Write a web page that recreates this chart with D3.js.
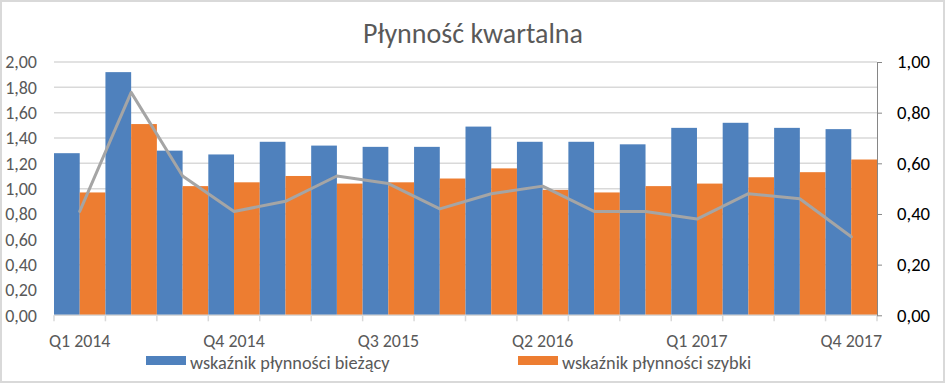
<!DOCTYPE html>
<html>
<head>
<meta charset="utf-8">
<script src="https://cdn.jsdelivr.net/npm/d3@7"></script>
<style>
  body { margin: 0; background: #fff; }
  svg text { font-family: Calibri, Carlito, Lato, sans-serif; }
</style>
</head>
<body>
<div id="chart"></div>
<script>
// data
var quarters = ["Q1 2014", "Q2 2014", "Q3 2014", "Q4 2014",
                "Q1 2015", "Q2 2015", "Q3 2015", "Q4 2015",
                "Q1 2016", "Q2 2016", "Q3 2016", "Q4 2016",
                "Q1 2017", "Q2 2017", "Q3 2017", "Q4 2017"];
var biezacy = [1.28, 1.92, 1.30, 1.27, 1.37, 1.34, 1.33, 1.33,
               1.49, 1.37, 1.37, 1.35, 1.48, 1.52, 1.48, 1.47];
var szybki = [0.97, 1.51, 1.02, 1.05, 1.10, 1.04, 1.05, 1.08,
              1.16, 0.99, 0.97, 1.02, 1.04, 1.09, 1.13, 1.23];
var trzeci = [0.41, 0.88, 0.55, 0.41, 0.45, 0.55, 0.52, 0.42,
              0.48, 0.51, 0.41, 0.41, 0.38, 0.48, 0.46, 0.31];
var leftTicks = [0, 0.2, 0.4, 0.6, 0.8, 1.0, 1.2, 1.4, 1.6, 1.8, 2.0];
var rightTicks = [0, 0.2, 0.4, 0.6, 0.8, 1.0];
var shownLabels = ["Q1 2014", "Q4 2014", "Q3 2015", "Q2 2016", "Q1 2017", "Q4 2017"];
var seriesNames = ["wskaźnik płynności bieżący", "wskaźnik płynności szybki"];

var width = 946, height = 385;
var plotLeft = 54, plotRight = 877, plotTop = 62, plotBottom = 315.3;

var blue = "#4f81bd", orange = "#ed7d31", gray = "#a5a5a5";
var fmt = function(v) { return d3.format(".2f")(v).replace(".", ","); };

var svg = d3.select("#chart").append("svg")
    .attr("width", width)
    .attr("height", height);

// outer frame
svg.append("rect")
    .attr("x", 1).attr("y", 1)
    .attr("width", width - 3).attr("height", height - 4)
    .attr("fill", "#fff")
    .attr("stroke", "#d9d9d9")
    .attr("stroke-width", 2);

var x = d3.scaleBand()
    .domain(quarters)
    .range([plotLeft, plotRight])
    .padding(0);

var xSub = d3.scaleBand()
    .domain([0, 1])
    .range([0, x.bandwidth()])
    .padding(0);

var yLeft = d3.scaleLinear().domain([0, 2]).range([plotBottom, plotTop]);
var yRight = d3.scaleLinear().domain([0, 1]).range([plotBottom, plotTop]);

// gridlines
svg.append("g")
    .selectAll("line")
    .data(leftTicks.slice(1))
    .enter().append("line")
    .attr("x1", plotLeft).attr("x2", plotRight)
    .attr("y1", function(d) { return yLeft(d); })
    .attr("y2", function(d) { return yLeft(d); })
    .attr("stroke", "#d9d9d9")
    .attr("stroke-width", 1.5);

// left axis (labels only)
var leftAxis = svg.append("g")
    .attr("transform", "translate(" + plotLeft + ",0)")
    .call(d3.axisLeft(yLeft).tickValues(leftTicks).tickFormat(fmt).tickSize(0).tickPadding(17));
leftAxis.select(".domain").remove();
leftAxis.selectAll("text")
    .attr("fill", "#595959")
    .style("font-size", "18px");

// bars
var groups = svg.append("g")
    .selectAll("g")
    .data(quarters)
    .enter().append("g")
    .attr("transform", function(d) { return "translate(" + x(d) + ",0)"; });

groups.append("rect")
    .attr("x", xSub(0))
    .attr("width", xSub.bandwidth())
    .attr("y", function(d, i) { return yLeft(biezacy[i]); })
    .attr("height", function(d, i) { return plotBottom - yLeft(biezacy[i]); })
    .attr("fill", blue);

groups.append("rect")
    .attr("x", xSub(1))
    .attr("width", xSub.bandwidth())
    .attr("y", function(d, i) { return yLeft(szybki[i]); })
    .attr("height", function(d, i) { return plotBottom - yLeft(szybki[i]); })
    .attr("fill", orange);

// bottom axis
var bottom = svg.append("g");
bottom.append("line")
    .attr("x1", plotLeft).attr("x2", plotRight)
    .attr("y1", plotBottom).attr("y2", plotBottom)
    .attr("stroke", "#d9d9d9").attr("stroke-width", 1.5);
bottom.selectAll(".tick")
    .data(d3.range(quarters.length + 1))
    .enter().append("line")
    .attr("x1", function(i) { return plotLeft + i * x.step(); })
    .attr("x2", function(i) { return plotLeft + i * x.step(); })
    .attr("y1", plotBottom).attr("y2", plotBottom + 6)
    .attr("stroke", "#d9d9d9").attr("stroke-width", 1.5);
bottom.selectAll("text")
    .data(shownLabels)
    .enter().append("text")
    .attr("x", function(d) { return x(d) + x.bandwidth() / 2; })
    .attr("y", 347)
    .attr("text-anchor", "middle")
    .attr("fill", "#595959")
    .style("font-size", "17.9px")
    .text(function(d) { return d; });

// right axis
var rightAxis = svg.append("g")
    .attr("transform", "translate(" + plotRight + ",0)")
    .call(d3.axisRight(yRight).tickValues(rightTicks).tickFormat(fmt).tickSizeInner(5).tickSizeOuter(0).tickPadding(15));
rightAxis.select(".domain").attr("stroke", "#868686");
rightAxis.selectAll(".tick line").attr("stroke", "#868686");
rightAxis.selectAll("text")
    .attr("fill", "#000")
    .style("font-size", "18.7px");

// line series on the right axis
var line = d3.line()
    .x(function(d, i) { return x(quarters[i]) + x.bandwidth() / 2; })
    .y(function(d) { return yRight(d); });

svg.append("path")
    .datum(trzeci)
    .attr("d", line)
    .attr("fill", "none")
    .attr("stroke", gray)
    .attr("stroke-width", 3)
    .attr("stroke-linejoin", "round")
    .attr("stroke-linecap", "round");

// title
svg.append("text")
    .attr("x", 473)
    .attr("y", 43)
    .attr("text-anchor", "middle")
    .attr("fill", "#595959")
    .style("font-size", "28px")
    .text("Płynność kwartalna");

// legend
var legendX = [146, 518];
var legend = svg.append("g")
    .selectAll("g")
    .data(seriesNames)
    .enter().append("g")
    .attr("transform", function(d, i) { return "translate(" + legendX[i] + ",356)"; });

legend.append("rect")
    .attr("width", 40).attr("height", 9)
    .attr("fill", function(d, i) { return i === 0 ? blue : orange; });

legend.append("text")
    .attr("x", 44)
    .attr("y", 13)
    .attr("fill", "#595959")
    .style("font-size", "18.3px")
    .text(function(d) { return d; });
</script>
</body>
</html>
